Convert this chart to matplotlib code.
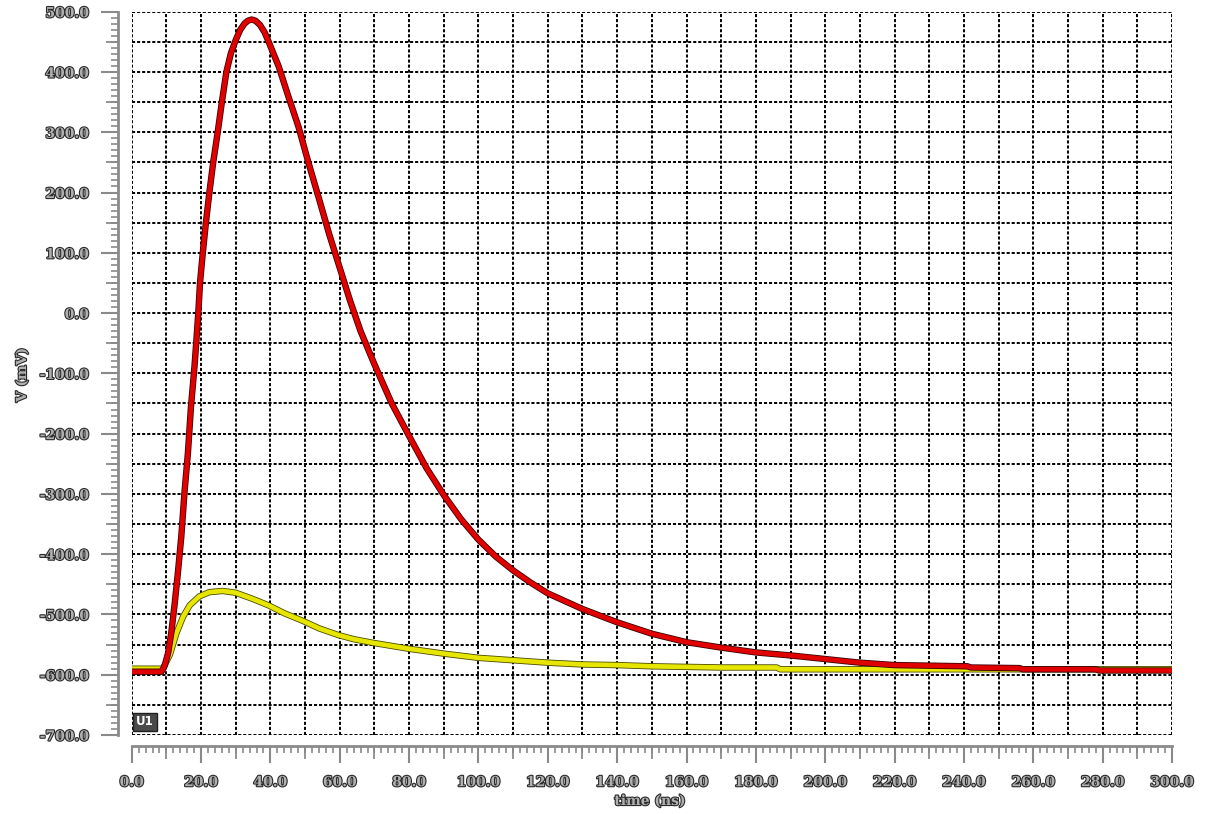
import numpy as np
import matplotlib
matplotlib.use("Agg")
import matplotlib.pyplot as plt
import matplotlib.patheffects as pe
from matplotlib.ticker import MultipleLocator, FixedLocator

# red trace (t in ns, V in mV)
red_t = [0, 8.6, 9.5, 10.5, 11.4, 12.4, 13.3, 14.3, 15.2, 16.2, 17.1, 18.1, 18.6, 19.2,
         19.7, 20.5, 21.4, 22.4, 23.5, 24.8, 26.0, 27.3, 28.6, 30.0, 31.3, 32.5, 33.5,
         34.6, 35.7, 37.0, 38.3, 39.5, 42.4, 45.2, 48.1, 51.0, 54.0, 57.0, 60.0, 63.0,
         66.0, 70, 75, 80, 85, 90, 95, 100, 105, 110, 115, 120, 130, 140, 150, 160, 170,
         180, 190, 200, 210, 220, 241, 242, 256, 257, 278, 279, 300]
red_v = [-595, -595, -585, -564, -531, -482, -432, -371, -299, -233, -155, -89, -50, 0,
         50, 100, 150, 200, 250, 300, 350, 400, 431, 453, 470, 480, 485,
         487, 485, 478, 466, 450, 409, 359, 309, 249, 190, 130, 75, 20,
         -30, -85, -150, -204, -257, -302, -342, -376, -404, -427, -447, -465, -491, -513,
         -532, -546, -555, -563, -568, -574, -580, -584, -586, -588,
         -589, -591, -591, -593, -593]

# yellow trace
yel_t = [0, 9.0, 11.0, 12.9, 14.8, 16.7, 19.5, 22.4, 26.2, 30.0, 34.8, 39.5, 44.0, 49.5,
         54.0, 59.5, 64.0, 69.5, 80, 90, 100, 110, 120, 130, 140, 150, 160, 170, 186,
         187, 220, 260, 300]
yel_v = [-590, -590, -567, -531, -504, -485, -470, -463, -461, -464, -474, -485, -498, -511,
         -523, -534, -541, -547, -557, -565, -572, -576, -580, -583, -584, -586, -587, -588, -588,
         -591, -591, -591, -591]

x_min, x_max = 0, 300
y_min, y_max = -700, 500

W, H = 1208, 814
fig = plt.figure(figsize=(W / 100, H / 100), dpi=100)
fig.patch.set_facecolor("white")

left_px, right_px, top_px, bot_px = 131.7, 1172.0, 11.7, 735.0
ax = fig.add_axes([left_px / W, 1 - bot_px / H, (right_px - left_px) / W, (bot_px - top_px) / H])
ax.set_xlim(x_min, x_max)
ax.set_ylim(y_min, y_max)

# dotted grid, every 10 ns and every 50 mV
grid_kw = dict(color="black", lw=1.4, dashes=(1.6, 1.0), zorder=1)
for gx in np.arange(x_min, x_max + 1, 10):
    ax.axvline(gx, **grid_kw)
for gy in np.arange(y_min, y_max + 1, 50):
    ax.axhline(gy, **grid_kw)

ax.plot(yel_t, yel_v, color="#e6e600", lw=3.4, zorder=3,
        path_effects=[pe.Stroke(linewidth=4.6, foreground="#4a4a00"), pe.Normal()])
ax.plot(red_t, red_v, color="#e00000", lw=3.4, zorder=4,
        path_effects=[pe.Stroke(linewidth=4.6, foreground="#3a0000"), pe.Normal()])

# ruler style axes
ruler = "#8a8a8a"
lx = -(left_px - 118) / (right_px - left_px)
by = -(746 - bot_px) / (bot_px - top_px)
for s in ["top", "right"]:
    ax.spines[s].set_visible(False)
ax.spines["left"].set_position(("axes", lx))
ax.spines["bottom"].set_position(("axes", by))
for s in ["left", "bottom"]:
    ax.spines[s].set_color(ruler)
    ax.spines[s].set_linewidth(2.0)

ax.yaxis.set_major_locator(MultipleLocator(100))
ax.yaxis.set_minor_locator(MultipleLocator(10))
ax.xaxis.set_major_locator(MultipleLocator(20))
ax.xaxis.set_minor_locator(MultipleLocator(2))
ax.yaxis.set_major_formatter(matplotlib.ticker.FormatStrFormatter("%.1f"))
ax.xaxis.set_major_formatter(matplotlib.ticker.FormatStrFormatter("%.1f"))
ax.tick_params(which="major", length=12, width=1.5, color=ruler, pad=9,
               labelsize=10)
ax.tick_params(which="minor", length=5, width=1.2, color=ruler)

# mid ruler ticks (50 mV, 10 ns)
sy = ax.secondary_yaxis(lx)
sy.yaxis.set_major_locator(FixedLocator(np.arange(-650, 500, 100)))
sy.tick_params(length=9, width=1.3, color=ruler, labelleft=False)
sy.spines["left"].set_visible(False)
sx = ax.secondary_xaxis(by)
sx.xaxis.set_major_locator(FixedLocator(np.arange(10, 300, 20)))
sx.tick_params(length=9, width=1.3, color=ruler, labelbottom=False)
sx.spines["bottom"].set_visible(False)

label_fx = [pe.Stroke(linewidth=1.6, foreground="#2a2a2a"), pe.Normal()]
for lbl in ax.get_xticklabels() + ax.get_yticklabels():
    lbl.set_fontfamily("DejaVu Serif")
    lbl.set_fontweight("bold")
    lbl.set_color("#b0b0b0")
    lbl.set_path_effects(label_fx)

fig.text(22 / W, 1 - 375 / H, "V (mV)", rotation=90, ha="center", va="center",
         fontsize=10, fontfamily="DejaVu Serif", fontweight="bold", color="#b0b0b0",
         path_effects=label_fx)
fig.text(650 / W, 1 - 801 / H, "time (ns)", ha="center", va="center",
         fontsize=10, fontfamily="DejaVu Serif", fontweight="bold", color="#b0b0b0",
         path_effects=label_fx)

ax.text(0.004, 0.009, "U1", transform=ax.transAxes, ha="left", va="bottom",
        fontsize=8.5, fontweight="bold", color="white", zorder=6,
        bbox=dict(boxstyle="square,pad=0.25", facecolor="#4a4a4a", edgecolor="#202020", lw=1))

fig.savefig("out.png", dpi=100)
